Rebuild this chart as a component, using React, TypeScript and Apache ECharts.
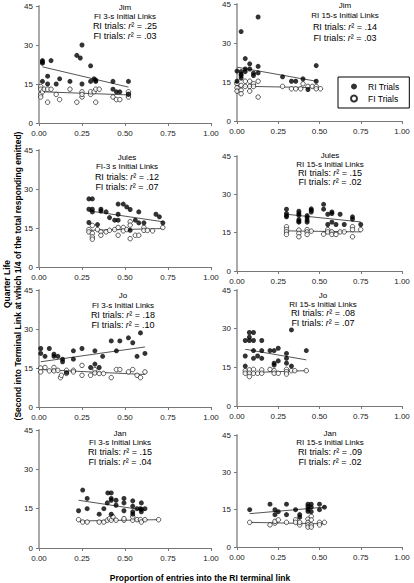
import React, { useEffect, useRef } from 'react';
import * as echarts from 'echarts';

// ---------- data ----------
const xTicks = [0, 0.25, 0.5, 0.75, 1];
const yTicks = [0, 15, 30, 45];

const subjects = ['Jim', 'Jim', 'Jules', 'Jules', 'Jo', 'Jo', 'Jan', 'Jan'];
const conditions = [
  'FI 3-s Initial Links', 'RI 15-s Initial Links',
  'FI-3 s Initial Links', 'RI 15-s Initial Links',
  'FI 3-s Initial Links', 'RI 15-s Initial Links',
  'FI 3-s Initial Links', 'RI 15-s Initial Links',
];
const riR2 = ['.25', '.14', '.12', '.15', '.18', '.08', '.15', '.09'];
const fiR2 = ['.03', '.03', '.07', '.02', '.10', '.07', '.04', '.02'];
const legendNames = ['RI Trials', 'FI Trials'];

const jimFI3RI = [[0.02,24],[0.02,23.5],[0.02,23],[0.02,16],[0.05,18],[0.05,15],[0.07,24],[0.1,15],[0.12,17],[0.18,16],[0.22,26],[0.24,25],[0.25,30],[0.25,15],[0.3,22],[0.3,16],[0.32,17],[0.33,16.5],[0.33,16],[0.43,16],[0.43,13],[0.45,12],[0.47,12],[0.52,16],[0.52,11]];
const jimFI3FI = [[0.01,14],[0.01,13],[0.01,11],[0.01,10],[0.02,12],[0.03,13],[0.05,13],[0.05,8],[0.07,13],[0.1,11],[0.12,9],[0.18,13],[0.22,8],[0.25,12],[0.25,10],[0.25,11],[0.3,11],[0.3,12],[0.32,12],[0.33,8],[0.33,13],[0.35,13],[0.43,10],[0.45,9],[0.47,9],[0.52,12],[0.52,11],[0.52,10]];
const jimFI3RITrend = [[0.02,21.6],[0.52,13.8]];
const jimFI3FITrend = [[0.02,12],[0.52,10.8]];

const jimRI15RI = [[0,19.2],[0,15.3],[0.025,34.4],[0.025,19],[0.025,18],[0.025,17.5],[0.025,16.5],[0.05,24],[0.05,20],[0.05,19],[0.077,22],[0.077,20],[0.1,18.4],[0.1,17.5],[0.128,40],[0.128,21],[0.128,18.5],[0.276,17],[0.33,15.3],[0.356,15.3],[0.4,16.2],[0.43,12.1],[0.48,21.3],[0.48,15.3]];
const jimRI15FI = [[0,14.3],[0,12.8],[0,11.5],[0.025,13.7],[0.025,11.8],[0.025,10.5],[0.05,15.3],[0.05,13.3],[0.077,15.3],[0.077,13.3],[0.077,11.5],[0.1,14.3],[0.1,13.3],[0.128,15.3],[0.128,9.2],[0.276,13.3],[0.33,12.4],[0.356,12.4],[0.386,12.4],[0.4,14.3],[0.43,13.3],[0.456,13.3],[0.48,13.3],[0.48,12.4],[0.506,12.4]];
const jimRI15RITrend = [[0,20.7],[0.48,15.3]];
const jimRI15FITrend = [[0,13.4],[0.5,12.8]];

const julesFI3RI = [[0.29,26.2],[0.31,26.2],[0.29,22.2],[0.31,22.2],[0.31,21.2],[0.29,17.1],[0.34,16.3],[0.36,22.2],[0.36,21.5],[0.39,21.2],[0.41,19],[0.44,18],[0.46,18],[0.46,20.3],[0.46,24.2],[0.49,24.2],[0.51,23.1],[0.53,22.1],[0.53,14.1],[0.56,18],[0.58,21.2],[0.58,17],[0.61,17],[0.68,20.3],[0.7,19.3],[0.72,17]];
const julesFI3FI = [[0.29,14.4],[0.29,13.5],[0.31,16],[0.31,12.9],[0.31,11.6],[0.31,10.7],[0.34,14.4],[0.36,13.5],[0.36,12.2],[0.39,13.5],[0.41,14.1],[0.44,14.4],[0.46,15.2],[0.46,12.2],[0.49,15.2],[0.49,13.9],[0.51,14.4],[0.53,17.4],[0.53,16.1],[0.53,10.9],[0.56,12.2],[0.58,12.2],[0.61,15.2],[0.61,14.1],[0.63,14.1],[0.66,13.9],[0.72,15.2]];
const julesFI3RITrend = [[0.29,21.6],[0.72,17.4]];
const julesFI3FITrend = [[0.29,14.1],[0.72,14.8]];

const julesRI15RI = [[0.3,24.2],[0.3,22.5],[0.3,21.7],[0.3,21.2],[0.375,23.4],[0.375,22.5],[0.375,21.8],[0.375,20.1],[0.375,19.5],[0.375,19.1],[0.425,21.7],[0.425,20.9],[0.425,19.9],[0.425,19.1],[0.45,24.3],[0.45,23.8],[0.45,23.1],[0.525,26.1],[0.525,24.2],[0.55,22.2],[0.55,18.2],[0.575,23.1],[0.575,22.5],[0.575,19.1],[0.6,18.2],[0.625,22.2],[0.65,18.2],[0.7,21.2],[0.7,20.3],[0.75,18.2]];
const julesRI15FI = [[0.3,17.3],[0.3,16.2],[0.3,15.3],[0.3,14.3],[0.375,16],[0.375,14.7],[0.375,13.4],[0.425,16.2],[0.425,15.3],[0.425,14.3],[0.45,15.6],[0.525,14.4],[0.55,16.2],[0.55,15.3],[0.575,15.3],[0.575,14.3],[0.6,14.3],[0.625,15.3],[0.65,15.3],[0.7,17.3],[0.7,16.2],[0.7,13.4],[0.75,16.2]];
const julesRI15RITrend = [[0.3,22.2],[0.75,19.2]];
const julesRI15FITrend = [[0.3,15.7],[0.75,15.3]];

const joFI3RI = [[0.01,22.5],[0.01,20.6],[0.035,19.5],[0.06,22.5],[0.087,20.3],[0.087,19.5],[0.11,19.5],[0.137,18.4],[0.137,17.4],[0.16,13.2],[0.2,21.6],[0.2,18.4],[0.25,22.5],[0.3,15.2],[0.325,21.6],[0.325,16.5],[0.35,15.2],[0.37,19.5],[0.42,25.4],[0.45,21.6],[0.47,25.4],[0.52,26.6],[0.545,24.7],[0.57,19.5],[0.59,28.5],[0.616,20.6]];
const joFI3FI = [[0.01,15],[0.01,13.5],[0.035,15.2],[0.06,13.9],[0.087,15.2],[0.087,13.9],[0.11,14.1],[0.125,11.3],[0.13,12.2],[0.16,14.1],[0.16,12.9],[0.2,14.1],[0.2,13.5],[0.25,16],[0.25,12.2],[0.3,12.2],[0.325,14.4],[0.325,13.1],[0.35,12.9],[0.375,12.9],[0.42,11.3],[0.45,14.4],[0.47,14.4],[0.52,13.5],[0.545,14.4],[0.57,12.2],[0.59,11.3],[0.616,13.5]];
const joFI3RITrend = [[0.01,17.4],[0.616,23.1]];
const joFI3FITrend = [[0.01,14.4],[0.616,12.5]];

const joRI15RI = [[0.05,25.4],[0.05,19.4],[0.05,15.5],[0.075,28.5],[0.075,26.7],[0.075,25.4],[0.1,28.5],[0.1,25.4],[0.1,21.5],[0.1,18.5],[0.125,19.4],[0.15,25.4],[0.15,21.5],[0.15,18.5],[0.2,21.5],[0.225,21.5],[0.225,16.6],[0.225,15.9],[0.25,22.4],[0.25,17.5],[0.3,20.4],[0.3,18.5],[0.3,16.6],[0.33,29.5],[0.33,15.5],[0.42,21.5]];
const joRI15FI = [[0.05,13.7],[0.05,12.7],[0.075,14],[0.075,12.7],[0.075,11.4],[0.1,14.2],[0.1,12.7],[0.125,12.7],[0.15,14],[0.15,12.7],[0.2,14.2],[0.225,13.7],[0.225,12.7],[0.25,12.7],[0.3,14.2],[0.3,13.3],[0.3,12.4],[0.33,13.7],[0.35,13.7],[0.42,13.7]];
const joRI15RITrend = [[0.05,22],[0.42,17.9]];
const joRI15FITrend = [[0.05,12.9],[0.42,13.7]];

const janFI3RI = [[0.23,14.2],[0.254,22.1],[0.28,18.9],[0.28,15],[0.35,12.9],[0.377,15],[0.397,17.2],[0.4,21],[0.42,21],[0.42,18.9],[0.42,18.2],[0.42,12.9],[0.448,18.2],[0.448,16.3],[0.494,18.9],[0.494,17.2],[0.494,14.2],[0.545,18],[0.545,16],[0.545,13.8],[0.545,12.9],[0.57,15],[0.59,15],[0.595,17.2],[0.595,14.7],[0.595,13.8],[0.616,15]];
const janFI3FI = [[0.23,10.8],[0.254,9.9],[0.28,9.9],[0.35,9.9],[0.377,9.9],[0.397,10.6],[0.41,11.2],[0.42,10.6],[0.43,11.9],[0.448,10.6],[0.494,10.6],[0.494,11.2],[0.545,10.6],[0.545,11.9],[0.57,10.8],[0.59,10.8],[0.595,9.9],[0.616,10.8],[0.695,10.8]];
const janFI3RITrend = [[0.23,18.2],[0.616,14.4]];
const janFI3FITrend = [[0.23,10.3],[0.695,10.8]];

const janRI15RI = [[0.077,15],[0.2,17.2],[0.23,15],[0.23,13],[0.25,14.2],[0.3,17.2],[0.3,13],[0.355,15],[0.38,13],[0.38,12],[0.43,17.2],[0.43,16.3],[0.43,15.2],[0.43,14.3],[0.45,17.2],[0.45,16],[0.45,14.2],[0.5,17.2],[0.5,15],[0.53,16]];
const janRI15FI = [[0.077,9.9],[0.2,8.9],[0.23,9.6],[0.23,10.3],[0.25,10.9],[0.3,9.9],[0.355,10.9],[0.355,9.9],[0.38,8.9],[0.38,9.9],[0.43,11.2],[0.43,9.9],[0.43,8.9],[0.43,8],[0.45,12.3],[0.45,10.9],[0.45,8.9],[0.45,8],[0.5,9.9],[0.5,8.9],[0.53,9.9]];
const janRI15RITrend = [[0.077,13.4],[0.53,16]];
const janRI15FITrend = [[0.077,9.9],[0.53,9.3]];

const riData = [jimFI3RI, jimRI15RI, julesFI3RI, julesRI15RI, joFI3RI, joRI15RI, janFI3RI, janRI15RI];
const fiData = [jimFI3FI, jimRI15FI, julesFI3FI, julesRI15FI, joFI3FI, joRI15FI, janFI3FI, janRI15FI];
const riTrends = [jimFI3RITrend, jimRI15RITrend, julesFI3RITrend, julesRI15RITrend, joFI3RITrend, joRI15RITrend, janFI3RITrend, janRI15RITrend];
const fiTrends = [jimFI3FITrend, jimRI15FITrend, julesFI3FITrend, julesRI15FITrend, joFI3FITrend, joRI15FITrend, janFI3FITrend, janRI15FITrend];

// ---------- layout ----------
const boxes = [
  [39, 6, 172, 117], [237, 4, 165, 117],
  [39, 150, 172, 117], [237, 156, 165, 115],
  [39, 290, 172, 117], [237, 290, 165, 116],
  [39, 430, 172, 118], [237, 435, 165, 112],
];
const noteX = [125, 345, 127, 330, 123, 323, 120, 330];
const noteY = [
  [7, 16, 26, 36], [5, 15, 27, 38],
  [157, 166, 177, 187], [155, 164, 173, 182],
  [295, 305, 315, 325], [295, 304, 313, 323],
  [433, 442, 452, 462], [433, 442, 452, 462],
];

const FONT = "'Liberation Sans', Arial, sans-serif";

const txt = (x: number, y: number, text: string, size: number, weight = 'normal', rotation = 0) => ({
  type: 'text', x, y, rotation,
  style: {
    text: `{a|${text}}`,
    align: 'center', verticalAlign: 'middle',
    rich: { a: { fontSize: size, fontWeight: weight, fontFamily: FONT, color: '#000' } },
  },
});

export default function App() {
  const ref = useRef<HTMLDivElement>(null);
  useEffect(() => {
    const chart = echarts.init(ref.current!, null, { renderer: 'svg' });
    const grid: any[] = [];
    const xAxis: any[] = [];
    const yAxis: any[] = [];
    const series: any[] = [];
    const graphic: any[] = [];
    boxes.forEach((b, i) => {
      grid.push({ left: b[0], top: b[1], width: b[2], height: b[3], containLabel: false });
      xAxis.push({
        type: 'value', gridIndex: i, min: xTicks[0], max: xTicks[xTicks.length - 1], interval: 0.25,
        axisLine: { show: true, lineStyle: { color: '#777', width: 1 } },
        axisTick: { show: true, length: 3, lineStyle: { color: '#777' } },
        splitLine: { show: false },
        axisLabel: { fontSize: 8, color: '#222', fontFamily: FONT, margin: 6, formatter: (v: number) => v.toFixed(2) },
      });
      yAxis.push({
        type: 'value', gridIndex: i, min: yTicks[0], max: yTicks[yTicks.length - 1], interval: 15,
        axisLine: { show: true, lineStyle: { color: '#aaa', width: 2 } },
        axisTick: { show: true, length: 3, lineStyle: { color: '#777' } },
        splitLine: { show: false },
        axisLabel: { fontSize: 8, color: '#222', fontFamily: FONT, margin: 6 },
      });
      series.push({
        type: 'line', xAxisIndex: i, yAxisIndex: i, data: riTrends[i], symbol: 'none',
        lineStyle: { color: '#555', width: 1 }, silent: true, z: 1,
      });
      series.push({
        type: 'line', xAxisIndex: i, yAxisIndex: i, data: fiTrends[i], symbol: 'none',
        lineStyle: { color: '#555', width: 1 }, silent: true, z: 1,
      });
      series.push({
        name: legendNames[0], type: 'scatter', xAxisIndex: i, yAxisIndex: i, data: riData[i],
        symbol: 'circle', symbolSize: 5, itemStyle: { color: '#000' }, z: 3,
      });
      series.push({
        name: legendNames[1], type: 'scatter', xAxisIndex: i, yAxisIndex: i, data: fiData[i],
        symbol: 'circle', symbolSize: 4.5, itemStyle: { color: '#fff', borderColor: '#000', borderWidth: 0.8 }, z: 2,
      });
      graphic.push(txt(noteX[i], noteY[i][0], subjects[i], 8));
      graphic.push(txt(noteX[i], noteY[i][1], conditions[i], 8));
      const r2 = [['RI trials: ', riR2[i]], ['FI trials: ', fiR2[i]]];
      r2.forEach((r, k) => {
        graphic.push({
          type: 'text', x: noteX[i], y: noteY[i][k + 2],
          style: {
            text: `{n|${r[0]}}{i|r}{n|² = ${r[1]}}`,
            align: 'center', verticalAlign: 'middle',
            rich: {
              n: { fontSize: 9, fontFamily: FONT, color: '#000' },
              i: { fontSize: 9, fontFamily: FONT, fontStyle: 'italic', color: '#000' },
            },
          },
        });
      });
    });
    graphic.push(txt(7, 284, 'Quarter Life', 8.5, 'bold', Math.PI / 2));
    graphic.push(txt(18, 276, '(Second into Terminal Link at which 1/4 of the total responding emitted)', 8.5, 'bold', Math.PI / 2));
    graphic.push(txt(200, 578, 'Proportion of entries into the RI terminal link', 8.5, 'bold'));

    chart.setOption({
      animation: false,
      backgroundColor: '#fff',
      grid, xAxis, yAxis, series, graphic,
      legend: {
        data: legendNames, orient: 'vertical', left: 338, top: 77, width: 71,
        borderColor: '#000', borderWidth: 1, padding: [5, 10, 5, 12], itemGap: 3,
        itemWidth: 6, itemHeight: 6, icon: 'circle',
        textStyle: { fontSize: 8.5, fontFamily: FONT, color: '#000', padding: [0, 0, 0, 6] },
        selectedMode: false,
      },
    });
    return () => chart.dispose();
  }, []);
  return <div ref={ref} style={{ position: 'absolute', left: 0, top: 0, width: 414, height: 583, background: '#fff' }} />;
}
